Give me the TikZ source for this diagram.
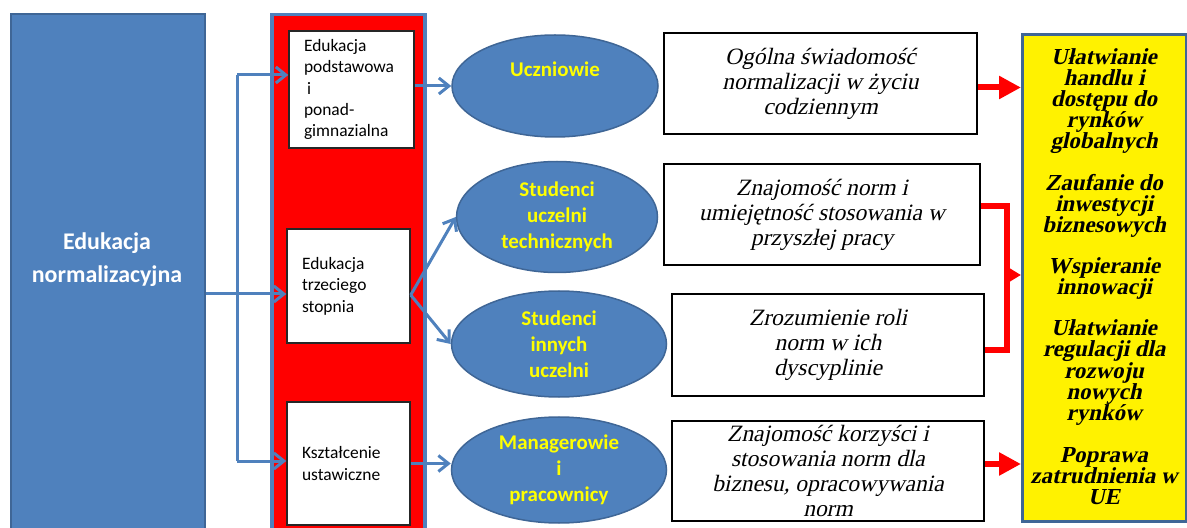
\documentclass[tikz,border=0pt]{standalone}
\usepackage{fontspec}
\setmainfont{Liberation Serif}
\newfontfamily\itserif{Liberation Serif}[FakeSlant=0.22]
\newfontfamily\bitserif{Liberation Serif Bold}[FakeSlant=0.22]
\newfontfamily\calfont{Carlito}
\usetikzlibrary{arrows.meta,shapes.geometric}
\definecolor{obl}{HTML}{4F81BD}
\definecolor{obd}{HTML}{3F6696}
\definecolor{txtyel}{HTML}{FFFF00}
\begin{document}
\begin{tikzpicture}[x=1bp,y=-1bp,
  bigbox/.style={rectangle, anchor=north west, inner sep=0pt, line width=2bp},
  eduitem/.style={rectangle, fill=white, draw=black!85, line width=1.5bp, inner xsep=15bp, inner ysep=2bp, align=left, font=\calfont\fontsize{17.5}{21.5}\selectfont},
  grp/.style={ellipse, fill=obl, draw=obd, line width=1.5bp, inner sep=0pt, align=center, text=txtyel, font=\calfont\bfseries\fontsize{21}{26}\selectfont},
  effect/.style={rectangle, fill=white, draw=black, line width=2bp, inner sep=0pt, align=center, font=\itserif\fontsize{23.5}{25}\selectfont},
  blueline/.style={draw=obl, line width=3bp},
  blueconn/.style={blueline, -{Straight Barb[length=10bp,width=16bp]}},
  redline/.style={draw=red, line width=6bp},
]
\useasboundingbox (0,0) rectangle (1187,528);
\clip (0,0) rectangle (1187,528);

% big columns
\node[bigbox, fill=obl, draw=obd, minimum width=194bp, minimum height=540bp] (edu) at (10,13) {};
\node[text=white, align=center, font=\calfont\bfseries\fontsize{24}{33}\selectfont] (edutxt) at (107,260) {Edukacja\\normalizacyjna};
\node[bigbox, fill=red, draw=obl, line width=3.5bp, minimum width=153bp, minimum height=540bp] (redcol) at (270,13) {};

% education boxes
\node[eduitem, text width=95bp, minimum height=117bp] (box1) at (351.5,89.5) {Edukacja\\podstawowa\\\hspace*{3bp}i\\ponad-\\gimnazialna};
\node[eduitem, text width=93bp, minimum height=114bp] (box2) at (348.5,286) {Edukacja\\trzeciego\\stopnia};
\node[eduitem, text width=93bp, minimum height=123bp] (box3) at (348.5,463.5) {Kształcenie\\ustawiczne};

% groups
\node[grp, minimum width=206bp, minimum height=102bp] (ucz) at (555,86) {Uczniowie\\\strut};
\node[grp, minimum width=201bp, minimum height=111bp] (tech) at (557,217) {Studenci\\uczelni\\technicznych};
\node[grp, minimum width=215bp, minimum height=106bp] (inn) at (559,344) {Studenci\\innych\\uczelni};
\node[grp, minimum width=215bp, minimum height=106bp] (man) at (559,470) {Managerowie\\i\\pracownicy};

% effects
\node[effect, minimum width=313bp, minimum height=101bp] (t1) at (820.5,83.5) {Ogólna świadomość\\normalizacji w życiu\\codziennym};
\node[effect, minimum width=316bp, minimum height=101bp] (t2) at (822,214.5) {Znajomość norm i\\umiejętność stosowania w\\przyszłej pracy};
\node[effect, minimum width=312bp, minimum height=102bp] (t3) at (828,345) {Zrozumienie roli\\norm w ich\\dyscyplinie};
\node[effect, minimum width=312bp, minimum height=100bp] (t4) at (828,471) {Znajomość korzyści i\\stosowania norm dla\\biznesu, opracowywania\\norm};

% outcomes
\node[bigbox, fill=yellow, draw=obd, line width=3bp, minimum width=164bp, minimum height=487bp] (yel) at (1021,33) {};
\node[align=center, font=\bitserif\fontsize{23}{21}\selectfont] (yeltxt) at (1104,277) {Ułatwianie\\handlu i\\dostępu do\\rynków\\globalnych\\[20bp]Zaufanie do\\inwestycji\\biznesowych\\[20bp]Wspieranie\\innowacji\\[20bp]Ułatwianie\\regulacji dla\\rozwoju\\nowych\\rynków\\[22bp]Poprawa\\zatrudnienia w\\UE};

% blue connectors
\coordinate (ja) at (237,294);
\coordinate (jt) at (237,75);
\coordinate (jb) at (237,461);
\draw[blueline] (jt) -- (jb);
\draw[blueconn] (edu.east |- ja) -- (box2.west |- ja);
\draw[blueconn] (jt) -- (box1.west |- jt);
\draw[blueconn] (jb) -- (box3.west |- jb);
\draw[blueconn] (box1.east |- ucz.west) -- (ucz.west);
\draw[blueconn] ([yshift=-9bp]box2.east) -- (tech.west);
\draw[blueconn] ([yshift=-9bp]box2.east) -- (inn.west);
\draw[blueconn] (box3.east) -- (box3.east -| man.west);

% red connectors
\coordinate (rj) at (1007,275);
\draw[redline, -{Triangle[length=22bp,width=22bp]}] ([yshift=-4bp]t1.east) -- ([yshift=-4bp]t1.east -| yel.west);
\draw[redline] ([yshift=8bp]t2.east) -| (rj) |- ([yshift=-5bp]t3.east);
\draw[redline, -{Triangle[length=16bp,width=18bp]}] (rj) -- (rj -| yel.west);
\draw[redline, -{Triangle[length=22bp,width=22bp]}] ([yshift=7bp]t4.east) -- ([yshift=7bp]t4.east -| yel.west);
\end{tikzpicture}
\end{document}
